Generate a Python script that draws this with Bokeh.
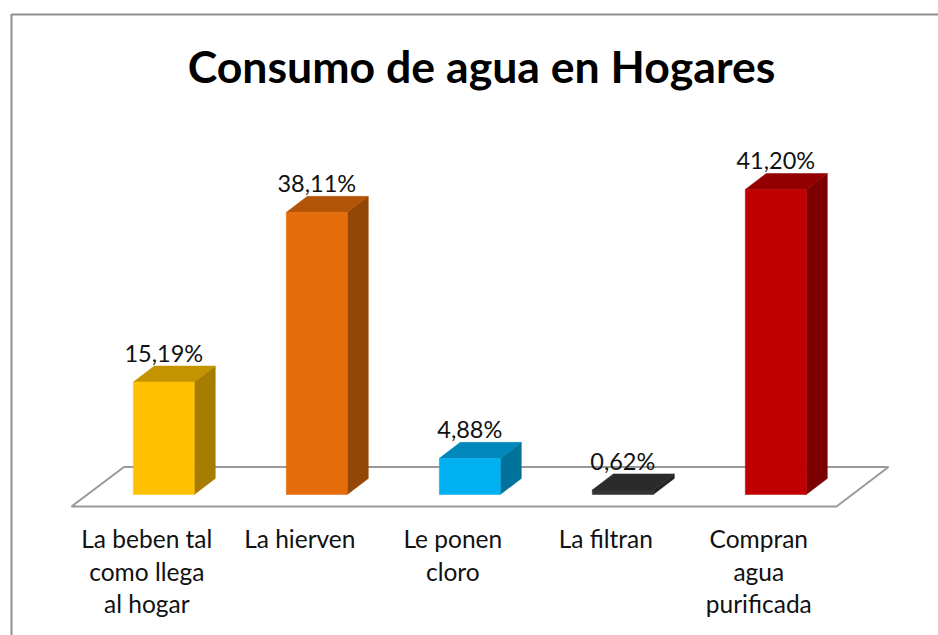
from bokeh.plotting import figure
from bokeh.models import Range1d
from bokeh.core.properties import value
from bokeh.embed import file_html
from bokeh.resources import INLINE

TITLE = "Consumo de agua en Hogares"
categories = ["La beben tal\ncomo llega\nal hogar", "La hierven", "Le ponen\ncloro", "La filtran", "Compran\nagua\npurificada"]
percent = [15.19, 38.11, 4.88, 0.62, 41.20]
value_labels = ["15,19%", "38,11%", "4,88%", "0,62%", "41,20%"]

front_colors = ["#FFC000", "#E46C0A", "#00B0F0", "#333333", "#C00000"]
top_colors = ["#C49400", "#B35508", "#0088BB", "#2B2B2B", "#940000"]
side_colors = ["#A67D00", "#944607", "#00729C", "#242424", "#7D0000"]

W, H = 938, 635
PAGE = 0
X0, DX = 163.3, 153.0      # page px of first bar centre, px per category
Y0, DY = 494.0, 7.403      # page px of baseline, px per percent

def xd(px):
    return (px - X0) / DX

def yd(py):
    return (Y0 - py) / DY

p = figure(width=W, height=H, output_backend="svg", toolbar_location=None,
           x_range=Range1d(xd(PAGE), xd(PAGE + W)), y_range=Range1d(yd(PAGE + H), yd(PAGE)),
           x_axis_type=None, y_axis_type=None, min_border=0, outline_line_color=None,
           background_fill_color="white", border_fill_color="white")
p.grid.visible = False

# chart frame (only the top and left edges are inside the picture)
frame = "#8F8F8F"
p.line([xd(11), xd(11), xd(PAGE + W)], [yd(PAGE + H), yd(14), yd(14)], line_color=frame, line_width=2)

# floor
p.patch([xd(71), xd(123.5), xd(888), xd(836)], [yd(506), yd(466.5), yd(466.5), yd(506)],
        fill_color="white", line_color="#999999", line_width=2)

half = 30.5 / DX
ox, oy = 21 / DX, 16 / DY

for i, v in enumerate(percent):
    l, r = i - half, i + half
    p.patch([r, r + ox, r + ox, r], [0, oy, v + oy, v], fill_color=side_colors[i], line_color=side_colors[i], line_width=0.5)
    p.patch([l, l + ox, r + ox, r], [v, v + oy, v + oy, v], fill_color=top_colors[i], line_color=top_colors[i], line_width=0.5)
    p.quad(left=[l], right=[r], bottom=[0], top=[v], fill_color=front_colors[i], line_color=front_colors[i], line_width=0.5)

font = value("Lato")
p.text(x=list(range(5)), y=[v + oy for v in percent], text=value_labels, text_font=font, text_font_size="23.5px",
       text_color="#111111", text_align="center", text_baseline="middle", y_offset=-13, x_offset=0)

for i, c in enumerate(categories):
    for j, line in enumerate(c.split("\n")):
        p.text(x=[i], y=[yd(538 + j * 32.6)], text=[line], text_font=font, text_font_size="24.5px",
               text_color="#111111", text_align="center", text_baseline="middle", x_offset=-17)

p.text(x=[xd(481)], y=[yd(65)], text=[TITLE], text_font=value("Lato"), text_font_size="44.6px", text_font_style="bold",
       text_color="#000000", text_align="center", text_baseline="middle")

open("out.html", "w").write(file_html(p, INLINE))
